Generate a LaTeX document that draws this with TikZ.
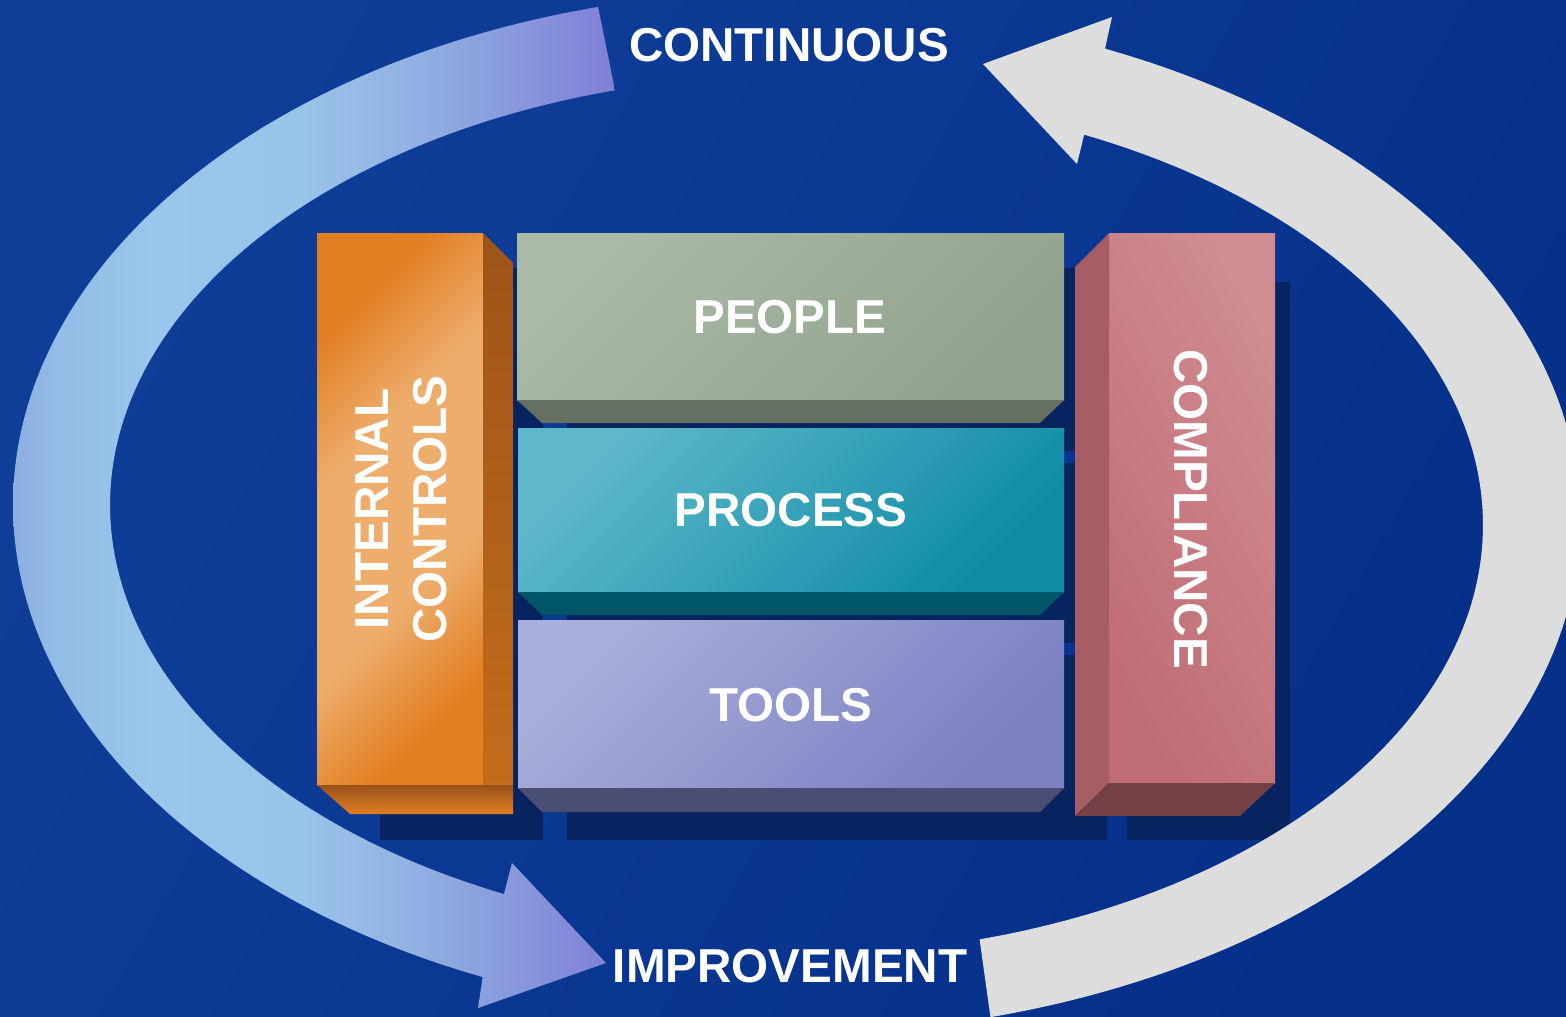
\documentclass[tikz,border=0pt]{standalone}
\usepackage{fontspec}
\setmainfont{Liberation Sans}
\usetikzlibrary{shadings}

% palette
\definecolor{bgA}{HTML}{0F3E98}
\definecolor{bgB}{HTML}{05308A}
\definecolor{shadowc}{HTML}{072460}
\definecolor{grayband}{HTML}{DDDDDD}
\definecolor{bandA}{HTML}{8DAEE0}
\definecolor{bandB}{HTML}{93BDE6}
\definecolor{bandC}{HTML}{99C6EA}
\definecolor{bandD}{HTML}{98C4EA}
\definecolor{bandE}{HTML}{92B4E3}
\definecolor{bandF}{HTML}{8A9CDD}
\definecolor{bandG}{HTML}{7F7FD6}
\definecolor{orDark}{HTML}{E27E22}
\definecolor{orLight}{HTML}{EDAD6C}
\definecolor{orSideTop}{HTML}{9D5418}
\definecolor{orSideBot}{HTML}{C36C1B}
\definecolor{orBotTop}{HTML}{98511A}
\definecolor{grLight}{HTML}{A9BAA6}
\definecolor{grDark}{HTML}{92A28D}
\definecolor{grBot}{HTML}{667062}
\definecolor{prLight}{HTML}{5FB8CA}
\definecolor{prDark}{HTML}{0E8CA6}
\definecolor{prBot}{HTML}{015568}
\definecolor{toLight}{HTML}{AAAEDA}
\definecolor{toDark}{HTML}{7A80C2}
\definecolor{toBot}{HTML}{4A4E74}
\definecolor{coLight}{HTML}{CF8C91}
\definecolor{coDark}{HTML}{C06C74}
\definecolor{coSide}{HTML}{A65E64}
\definecolor{coBot}{HTML}{744046}

% colour ramp along the left ring segment (25bp..75bp spans its width)
\pgfdeclarehorizontalshading{leftband}{100bp}{%
  color(0bp)=(bandA); color(25bp)=(bandA); color(28.9bp)=(bandB);
  color(36.4bp)=(bandC); color(48.8bp)=(bandD); color(57.1bp)=(bandE);
  color(65.4bp)=(bandF); color(75bp)=(bandG); color(100bp)=(bandG)}

% orange pillar face: dark corners, broad light band across the middle
\pgfdeclareverticalshading{orpillar}{100bp}{%
  color(0bp)=(orDark); color(25bp)=(orDark); color(40bp)=(orLight);
  color(60bp)=(orLight); color(75bp)=(orDark); color(100bp)=(orDark)}

\tikzset{
  lbl/.style={text=white, font=\bfseries\fontsize{47.6}{58}\selectfont,
              inner sep=0pt, align=center},
  shadowfill/.style={fill=shadowc},
  frontface/.style 2 args={left color=#1, right color=#2, shading angle=45},
}

\begin{document}
\begin{tikzpicture}[x=1pt,y=-1pt]
\useasboundingbox (0,0) rectangle (1566,1017);
\clip (0,0) rectangle (1566,1017);

% backdrop
\shade[left color=bgA, right color=bgB, shading angle=60] (0,0) rectangle (1566,1017);

% drop shadows
\fill[shadowfill] (380,268) rectangle (543,840);
\fill[shadowfill] (567,268) rectangle (1107,451);
\fill[shadowfill] (567,463) rectangle (1107,643);
\fill[shadowfill] (567,655) rectangle (1107,840);
\fill[shadowfill] (1127,282) rectangle (1290,840);

% internal controls pillar
\shade[shading=orpillar, shading angle=45]
  (317,233) rectangle (483,785);
\shade[top color=orSideTop, bottom color=orSideBot]
  (483,233) -- (513,263) -- (513,785) -- (483,785) -- cycle;
\shade[top color=orBotTop, bottom color=orDark]
  (317,785) -- (513,785) -- (513,814) -- (350,814) -- cycle;

% people slab
\shade[frontface={grLight}{grDark}] (517,233) rectangle (1064,400);
\fill[grBot] (517,400) -- (1064,400) -- (1040,423) -- (542,423) -- cycle;

% process slab
\shade[frontface={prLight}{prDark}] (518,428) rectangle (1064,592);
\fill[prBot] (518,592) -- (1064,592) -- (1040,615) -- (542,615) -- cycle;

% tools slab
\shade[frontface={toLight}{toDark}] (518,620) rectangle (1064,788);
\fill[toBot] (518,788) -- (1064,788) -- (1040,812) -- (542,812) -- cycle;

% compliance pillar
\shade[left color=coLight, right color=coDark, shading angle=-60]
  (1109,233) rectangle (1275,783);
\fill[coSide] (1075,267) -- (1109,233) -- (1109,783) -- (1075,816) -- cycle;
\fill[coBot] (1109,783) -- (1275,783) -- (1240,816) -- (1075,816) -- cycle;

% labels
\node[lbl] (people) at (790,317) {PEOPLE};
\node[lbl] (process) at (791,510) {PROCESS};
\node[lbl] (tools) at (791,705) {TOOLS};
\node[lbl, rotate=90] (internal) at (401,509) {INTERNAL\\CONTROLS};
\node[lbl, rotate=-90] (compliance) at (1191,509) {COMPLIANCE};
\node[lbl] (continuous) at (789,45) {CONTINUOUS};
\node[lbl] (improvement) at (790,966) {IMPROVEMENT};

% left ring arrow, running down to the bottom label
\shade[shading=leftband]
  plot[domain=255.7:113.3, samples=140, variable=\t]
    ({790+777*cos(\t)},{505+514*sin(\t)})
  -- (478,1008) -- (606,963) -- (512,863)
  -- plot[domain=115.2:254.7, samples=140, variable=\t]
    ({796+686*cos(\t)},{505+430*sin(\t)})
  -- cycle;

% right ring arrow, running up to the top label
\fill[grayband]
  (983,64) -- (1112,17)
  -- plot[domain=-66.5:75.3, samples=160, variable=\t]
    ({790+790*cos(\t)},{520+514*sin(\t)})
  -- plot[domain=74.5:-65.2, samples=160, variable=\t]
    ({796+687*cos(\t)},{525+430*sin(\t)})
  -- (1077,164) -- cycle;
\end{tikzpicture}
\end{document}
